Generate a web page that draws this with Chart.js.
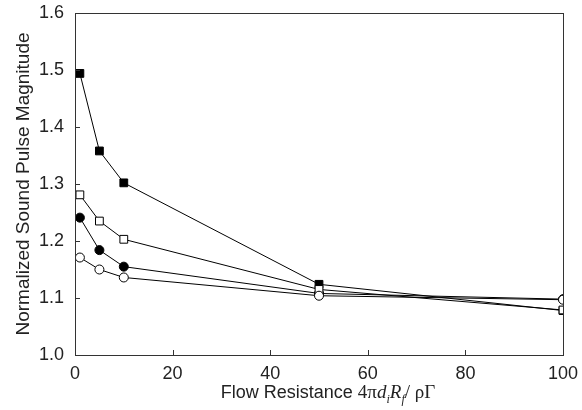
<!DOCTYPE html>
<html>
<head>
<meta charset="utf-8">
<script src="https://cdn.jsdelivr.net/npm/chart.js@4"></script>
<style>
  html, body { margin: 0; padding: 0; background: #fff; }
  #wrap { width: 582px; height: 410px; }
</style>
</head>
<body>
<div id="wrap"><canvas id="myChart"></canvas></div>
<script>
"use strict";

// values
const flowResistance = [1, 5, 10, 50, 100];
const filledSquares = [1.494, 1.358, 1.302, 1.124, 1.078];
const openSquares = [1.281, 1.235, 1.203, 1.115, 1.079];
const filledCircles = [1.241, 1.184, 1.155, 1.108, 1.098];
const openCircles = [1.171, 1.150, 1.136, 1.104, 1.097];
const xTicks = [0, 20, 40, 60, 80, 100];
const yTicks = [1.0, 1.1, 1.2, 1.3, 1.4, 1.5, 1.6];

const FONT = "'Liberation Sans', Arial, sans-serif";
const SERIF = "'Liberation Serif', 'Times New Roman', serif";

function toPoints(ys) {
    return flowResistance.map((x, i) => ({ x: x, y: ys[i] }));
}

function series(ys, style, filled, radius, order) {
    return {
        data: toPoints(ys),
        borderColor: "#000",
        borderWidth: 1,
        pointStyle: style,
        pointRadius: radius,
        pointBackgroundColor: filled ? "#000" : "#fff",
        pointBorderColor: "#000",
        pointBorderWidth: 1,
        order: order
    };
}

// frame, inward ticks and the mixed-font x axis title
const framePlugin = {
    id: "frame",
    afterDraw(chart) {
        const c = chart.ctx;
        const a = chart.chartArea;
        const xs = chart.scales.x;
        const ys = chart.scales.y;
        c.save();
        c.strokeStyle = "#333";
        c.lineWidth = 1;
        c.strokeRect(a.left + 0.5, a.top + 0.5, a.right - a.left, a.bottom - a.top);
        c.beginPath();
        xTicks.forEach(v => {
            const px = Math.round(xs.getPixelForValue(v)) + 0.5;
            c.moveTo(px, a.bottom);
            c.lineTo(px, a.bottom - 5);
        });
        yTicks.forEach(v => {
            const py = Math.round(ys.getPixelForValue(v)) + 0.5;
            c.moveTo(a.left, py);
            c.lineTo(a.left + 5, py);
        });
        c.stroke();

        // x title: Flow Resistance 4πd_i R_f / ρΓ
        const parts = [
            { t: "Flow Resistance ", f: "18px " + FONT, dy: 0 },
            { t: "4π", f: "19px " + SERIF, dy: 0 },
            { t: "d", f: "italic 19px " + SERIF, dy: 0 },
            { t: "i", f: "italic 12px " + SERIF, dy: 5 },
            { t: "R", f: "italic 19px " + SERIF, dy: 0 },
            { t: "f", f: "italic 12px " + SERIF, dy: 5 },
            { t: "/ ", f: "19px " + SERIF, dy: 0 },
            { t: "ρΓ", f: "19px " + SERIF, dy: 0 }
        ];
        let total = 0;
        parts.forEach(p => { c.font = p.f; p.w = c.measureText(p.t).width; total += p.w; });
        let x = (a.left + a.right) / 2 + 9 - total / 2;
        const base = 398;
        c.fillStyle = "#222";
        c.textBaseline = "alphabetic";
        c.textAlign = "left";
        parts.forEach(p => {
            c.font = p.f;
            c.fillText(p.t, x, base + p.dy);
            x += p.w;
        });
        c.restore();
    }
};

const data = {
    datasets: [
        series(openCircles, "circle", false, 4.5, 1),
        series(openSquares, "rect", false, 5.5, 2),
        series(filledCircles, "circle", true, 4.5, 3),
        series(filledSquares, "rect", true, 5.5, 4)
    ]
};

const config = {
    type: "line",
    data: data,
    options: {
        responsive: true,
        maintainAspectRatio: false,
        animation: false,
        layout: { padding: { top: 13, right: 19, left: 0, bottom: 0 } },
        plugins: {
            legend: { display: false },
            tooltip: { enabled: false }
        },
        scales: {
            x: {
                type: "linear",
                min: 0,
                max: 100,
                afterBuildTicks: s => { s.ticks = xTicks.map(v => ({ value: v })); },
                afterFit: s => { s.height = 55; s.paddingLeft = 0; s.paddingRight = 0; },
                grid: { display: false, drawTicks: false },
                border: { display: false },
                ticks: {
                    padding: 8,
                    color: "#222",
                    font: { family: FONT, size: 18 }
                }
            },
            y: {
                type: "linear",
                min: 1.0,
                max: 1.6,
                afterBuildTicks: s => { s.ticks = yTicks.map(v => ({ value: v })); },
                afterFit: s => { s.width = 75; s.paddingTop = 0; s.paddingBottom = 0; },
                grid: { display: false, drawTicks: false },
                border: { display: false },
                ticks: {
                    padding: 11,
                    color: "#222",
                    font: { family: FONT, size: 18 },
                    callback: v => Number(v).toFixed(1)
                },
                title: {
                    display: true,
                    text: "Normalized Sound Pulse Magnitude",
                    color: "#222",
                    font: { family: FONT, size: 19 },
                    padding: { top: 12, bottom: 0 }
                }
            }
        }
    },
    plugins: [framePlugin]
};

let myChart = new Chart(document.getElementById("myChart").getContext("2d"), config);
</script>
</body>
</html>
